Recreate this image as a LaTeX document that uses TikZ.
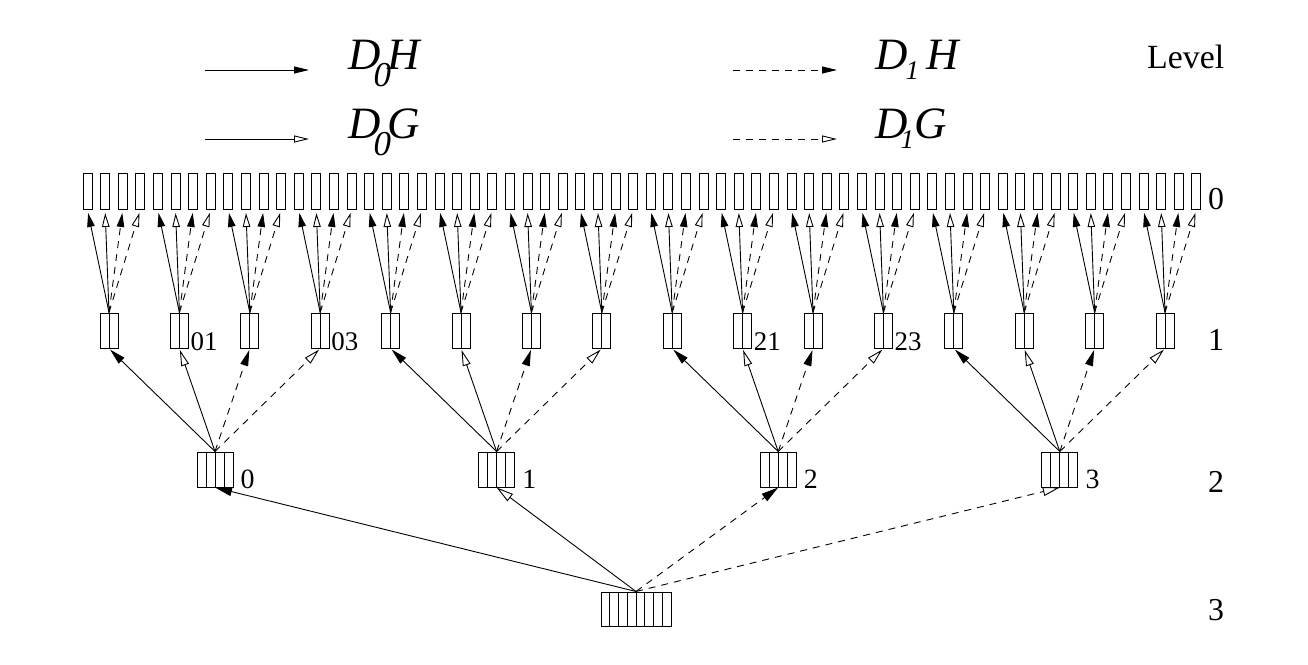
\documentclass[tikz,border=0pt]{standalone}
\usepackage{fontspec}
\setmainfont{Liberation Serif}
\usetikzlibrary{arrows.meta,calc}
\tikzset{
  leaf/.style={draw, line width=1bp, minimum width=9bp, minimum height=36bp, inner sep=0pt},
  cellbox/.style={draw, line width=1bp, minimum width=#1*9bp, minimum height=35bp, inner sep=0pt,
    path picture={\pgfmathtruncatemacro{\nd}{#1-1}
      \foreach \k in {1,...,\nd}{
        \draw[line width=1bp]
          ($(path picture bounding box.south west)!\k/#1!(path picture bounding box.south east)$) --
          ($(path picture bounding box.north west)!\k/#1!(path picture bounding box.north east)$);}}},
  conn/.style={line width=0.9bp},
  dsh/.style={dash pattern=on 7bp off 6bp},
  Hh/.style 2 args={conn, -{Triangle[length=#1,width=#2]}},
  Gg/.style 2 args={conn, -{Triangle[open,length=#1,width=#2]}},
  lvl/.style={font=\fontsize{32}{32}\selectfont, inner sep=0pt, anchor=base},
  lbl/.style={font=\fontsize{27}{27}\selectfont, inner sep=0pt, anchor=base west},
  leg/.style={inner sep=0pt, anchor=base west, font=\fontsize{45}{45}\selectfont\itshape},
}
\begin{document}
\begin{tikzpicture}[x=1bp,y=-1bp]
\useasboundingbox (0,0) rectangle (1308,664);

% legend
\coordinate (a1) at (205,70);  \coordinate (b1) at (309,70);
\coordinate (a2) at (205,139); \coordinate (b2) at (309,139);
\coordinate (a3) at (733,70);  \coordinate (b3) at (837,70);
\coordinate (a4) at (733,139); \coordinate (b4) at (837,139);
\draw[Hh={15bp}{7bp}] (a1) -- (b1);
\draw[Gg={15bp}{7bp}] (a2) -- (b2);
\draw[Hh={15bp}{7bp}, dsh] (a3) -- (b3);
\draw[Gg={15bp}{7bp}, dsh] (a4) -- (b4);
\node[leg] (t1) at (348,70) {D\kern-7bp\raisebox{-17bp}{\fontsize{35}{35}\selectfont 0}\kern-3.5bp H};
\node[leg] (t2) at (348,138) {D\kern-7bp\raisebox{-17bp}{\fontsize{35}{35}\selectfont 0}\kern-3.5bp G};
\node[leg] (t3) at (875,70) {D\kern-2bp\raisebox{-10bp}{\fontsize{27}{27}\selectfont 1}\kern7bp H};
\node[leg] (t4) at (875,138) {D\kern-7bp\raisebox{-10bp}{\fontsize{27}{27}\selectfont 1}\kern0bp G};
\node[inner sep=0pt, anchor=base west, font=\fontsize{34}{34}\selectfont] (lev) at (1147,69) {Level};

% level numbers
\node[lvl] (n0) at (1216,209) {0};
\node[lvl] (n1) at (1216,350) {1};
\node[lvl] (n2) at (1216,492) {2};
\node[lvl] (n3) at (1216,620) {3};

% boxes
\foreach \i in {0,...,63} \node[leaf] (c\i) at ({87.5+17.6*\i},191.5) {};
\foreach \j in {0,...,15} \node[cellbox=2] (p\j) at ({109+70.4*\j},330.5) {};
\foreach \k in {0,...,3} \node[cellbox=4] (q\k) at ({215+281.6*\k},469.5) {};
\node[cellbox=8, minimum width=70bp, minimum height=34bp] (r) at (636,609) {};

% labels
\node[lbl] (l01) at ([xshift=1.5bp,yshift=-2bp]p1.south east) {01};
\node[lbl] (l03) at ([xshift=1.5bp,yshift=-2bp]p3.south east) {03};
\node[lbl] (l21) at ([xshift=1.5bp,yshift=-2bp]p9.south east) {21};
\node[lbl] (l23) at ([xshift=1.5bp,yshift=-2bp]p11.south east) {23};
\foreach \k in {0,...,3}
  \node[lbl, font=\fontsize{28}{28}\selectfont] (m\k) at ([xshift=7bp,yshift=-1bp]q\k.south east) {\k};

% level 1 -> level 0
\foreach \j in {0,...,15}{
  \pgfmathtruncatemacro{\ia}{4*\j}
  \pgfmathtruncatemacro{\ib}{4*\j+1}
  \pgfmathtruncatemacro{\ic}{4*\j+2}
  \pgfmathtruncatemacro{\id}{4*\j+3}
  \draw[Hh={14bp}{7.5bp}, shorten >=3bp] (p\j.north) -- (c\ia.south);
  \draw[Gg={14bp}{7.5bp}, shorten >=3bp] (p\j.north) -- (c\ib.south);
  \draw[Hh={14bp}{7.5bp}, dsh, shorten >=3bp] (p\j.north) -- (c\ic.south);
  \draw[Gg={14bp}{7.5bp}, dsh, shorten >=3bp] (p\j.north) -- (c\id.south);
}
% level 2 -> level 1
\foreach \k in {0,...,3}{
  \pgfmathtruncatemacro{\ia}{4*\k}
  \pgfmathtruncatemacro{\ib}{4*\k+1}
  \pgfmathtruncatemacro{\ic}{4*\k+2}
  \pgfmathtruncatemacro{\id}{4*\k+3}
  \draw[Hh={16bp}{8bp}, shorten >=1.5bp] (q\k.north) -- (p\ia.south);
  \draw[Gg={16bp}{8bp}, shorten >=1.5bp] (q\k.north) -- (p\ib.south);
  \draw[Hh={16bp}{8bp}, dsh, shorten >=1.5bp] (q\k.north) -- (p\ic.south);
  \draw[Gg={16bp}{8bp}, dsh, shorten >=1.5bp] (q\k.north) -- (p\id.south);
}
% level 3 -> level 2
\draw[Hh={17bp}{9bp}] (r.north) -- (q0.south);
\draw[Gg={17bp}{9bp}] (r.north) -- (q1.south);
\draw[Hh={17bp}{9bp}, dsh] (r.north) -- (q2.south);
\draw[Gg={17bp}{9bp}, dsh] (r.north) -- (q3.south);
\end{tikzpicture}
\end{document}
